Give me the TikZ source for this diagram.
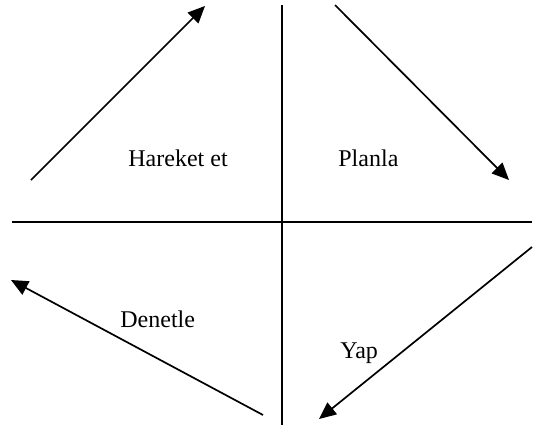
\documentclass[tikz,border=0pt]{standalone}
\usepackage{fontspec}
\setmainfont{Liberation Serif}
\usetikzlibrary{arrows.meta}
\begin{document}
\begin{tikzpicture}[x=0.5pt,y=-0.5pt,
  axis/.style={line width=0.85pt},
  cyc/.style={line width=0.85pt,-{Triangle[length=8.5pt,width=7.5pt]}},
  lbl/.style={font=\fontsize{12}{14}\selectfont,anchor=base west,inner sep=0pt}]
\useasboundingbox (0,0) rectangle (540,428);
% axes
\coordinate (vt) at (282,5);
\coordinate (vb) at (282,425);
\coordinate (hl) at (12,222);
\coordinate (hr) at (532,222);
\draw[axis] (vt) -- (vb);
\draw[axis] (hl) -- (hr);
% arrow end points
\coordinate (a1s) at (31,180);
\coordinate (a1e) at (205,6);
\coordinate (a2s) at (335,5);
\coordinate (a2e) at (509,180);
\coordinate (a3s) at (532,247);
\coordinate (a3e) at (319,419);
\coordinate (a4s) at (263,415);
\coordinate (a4e) at (11,280);
\draw[cyc] (a1s) -- (a1e);
\draw[cyc] (a2s) -- (a2e);
\draw[cyc] (a3s) -- (a3e);
\draw[cyc] (a4s) -- (a4e);
% labels
\node[lbl] (act) at (128,166) {Hareket et};
\node[lbl] (plan) at (338,166) {Planla};
\node[lbl] (check) at (120,327) {Denetle};
\node[lbl] (do) at (340,358) {Yap};
\end{tikzpicture}
\end{document}
